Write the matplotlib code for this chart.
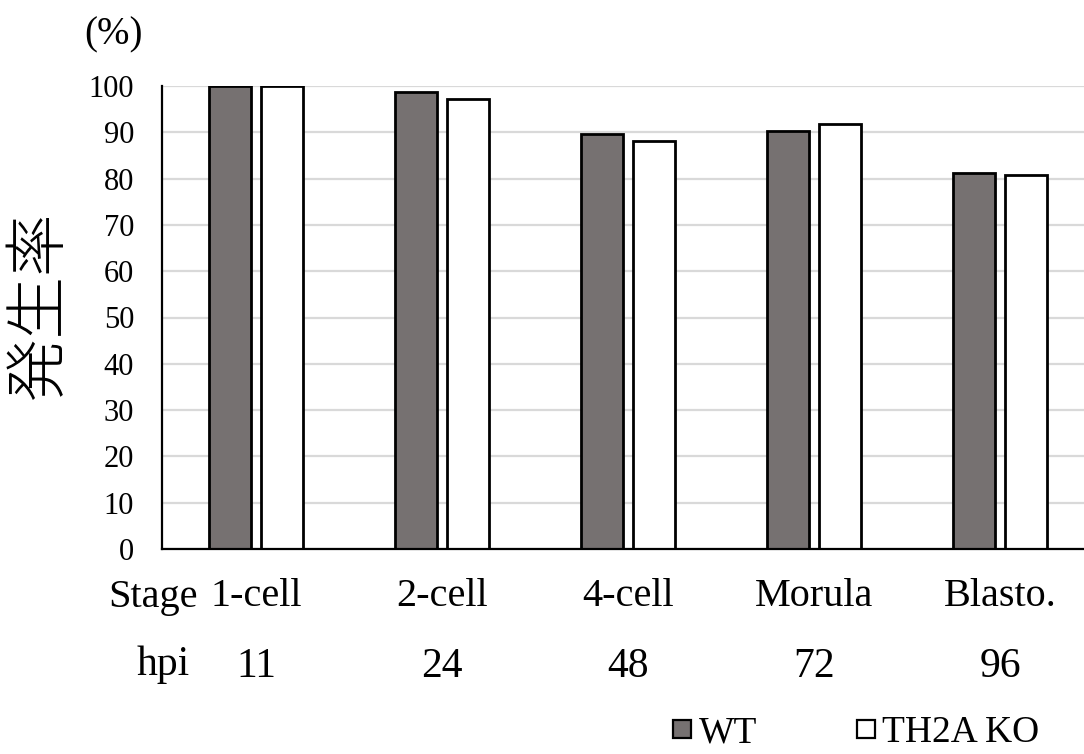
import numpy as np
import matplotlib.pyplot as plt
from matplotlib.lines import Line2D
from matplotlib.transforms import blended_transform_factory

stages = ['1-cell', '2-cell', '4-cell', 'Morula', 'Blasto.']
hpi = ['11', '24', '48', '72', '96']
wt = [100.0, 98.7, 89.6, 90.3, 81.3]
ko = [100.0, 97.2, 88.2, 91.8, 80.7]
yticks = list(range(0, 101, 10))

serif = ['Liberation Serif', 'DejaVu Serif']
jp = ['Noto Sans CJK JP', 'DejaVu Sans']
wt_color = '#767171'

fig = plt.figure(figsize=(10.84, 7.54), dpi=100)
W, H = 1084, 754
ax = fig.add_axes([162 / W, 1 - 549 / H, 931 / W, 463 / H])

x = np.arange(len(stages))
bw = 0.226
off = 0.142
ax.bar(x - off, wt, bw, color=wt_color, edgecolor='black', linewidth=2, zorder=3)
ax.bar(x + off, ko, bw, color='white', edgecolor='black', linewidth=2, zorder=3)

ax.set_xlim(-0.505, 4.5)
ax.set_ylim(0, 100)
ax.set_yticks(yticks)
ax.set_yticklabels([str(t) for t in yticks], family=serif, fontsize=22)
ax.tick_params(axis='y', length=0, pad=20)
ax.set_xticks([])
ax.grid(axis='y', color='#d9d9d9', linewidth=1.6, zorder=0)
ax.set_axisbelow(True)
for s in ['top', 'right']:
    ax.spines[s].set_visible(False)
for s in ['left', 'bottom']:
    ax.spines[s].set_linewidth(1.6)
    ax.spines[s].set_zorder(4)

# category rows under the axis
tr = blended_transform_factory(ax.transData, fig.transFigure)
for i in range(len(stages)):
    ax.text(x[i], 1 - 597 / H, stages[i], transform=tr, ha='center', va='center',
            family=serif, fontsize=29, clip_on=False)
    ax.text(x[i], 1 - 667 / H, hpi[i], transform=tr, ha='center', va='center',
            family=serif, fontsize=30, clip_on=False)
fig.text(153 / W, 1 - 597 / H, 'Stage', ha='center', va='center', family=serif, fontsize=29)
fig.text(163 / W, 1 - 665 / H, 'hpi', ha='center', va='center', family=serif, fontsize=30)

fig.text(113 / W, 1 - 35 / H, '(%)', ha='center', va='center', family=serif, fontsize=28)
fig.text(40 / W, 1 - 305 / H, '発生率', ha='center', va='center', rotation=90,
         family=jp, fontsize=45, fontweight='light')

handles = [
    Line2D([], [], linestyle='none', marker='s', markersize=13, markerfacecolor=wt_color,
           markeredgecolor='black', markeredgewidth=1.6),
    Line2D([], [], linestyle='none', marker='s', markersize=13, markerfacecolor='white',
           markeredgecolor='black', markeredgewidth=1.6),
]
fig.legend(handles, ['WT', 'TH2A KO'], loc='center', bbox_to_anchor=(855 / W, 1 - 733 / H),
           ncol=2, frameon=False, prop={'family': serif, 'size': 27},
           handlelength=0.6, handletextpad=0.15, columnspacing=2.6)

fig.savefig('out.png', dpi=100)
